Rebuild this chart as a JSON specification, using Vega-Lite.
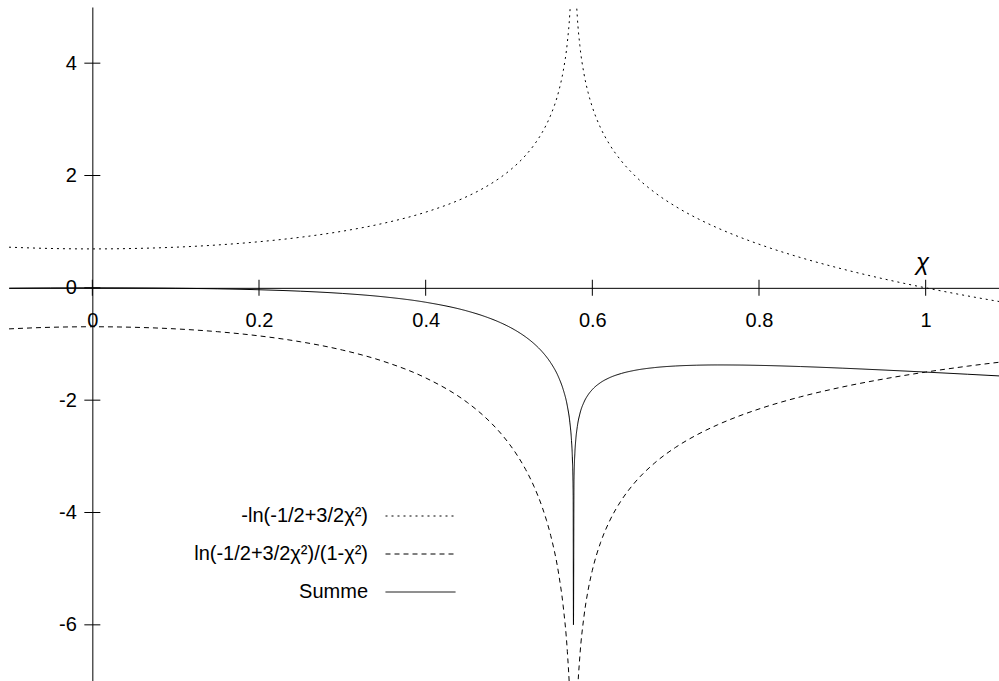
{
  "$schema": "https://vega.github.io/schema/vega-lite/v6.json",
  "width": 990,
  "height": 674,
  "autosize": "none",
  "padding": {"left": 9, "top": 7, "right": 0, "bottom": 0},
  "background": "white",
  "config": {
    "view": {"stroke": null},
    "font": "Liberation Sans",
    "axis": {"grid": false, "domainColor": "black", "domainWidth": 1, "labelColor": "black", "labelFontSize": 20, "labelFont": "Liberation Sans"}
  },
  "datasets": {
    "curves": [
      {"x": -0.1, "f1": 0.7236, "f2": -0.7309, "summe": -0.0073},
      {"x": -0.05, "f1": 0.7007, "f2": -0.7024, "summe": -0.0018},
      {"x": 0, "f1": 0.6931, "f2": -0.6931, "summe": 0},
      {"x": 0.05, "f1": 0.7007, "f2": -0.7024, "summe": -0.0018},
      {"x": 0.1, "f1": 0.7236, "f2": -0.7309, "summe": -0.0073},
      {"x": 0.15, "f1": 0.763, "f2": -0.7806, "summe": -0.0176},
      {"x": 0.2, "f1": 0.821, "f2": -0.8552, "summe": -0.0342},
      {"x": 0.25, "f1": 0.9008, "f2": -0.9608, "summe": -0.0601},
      {"x": 0.3, "f1": 1.0079, "f2": -1.1075, "summe": -0.0997},
      {"x": 0.35, "f1": 1.1512, "f2": -1.3119, "summe": -0.1607},
      {"x": 0.4, "f1": 1.3471, "f2": -1.6037, "summe": -0.2566},
      {"x": 0.45, "f1": 1.6284, "f2": -2.0418, "summe": -0.4135},
      {"x": 0.47, "f1": 1.7799, "f2": -2.2846, "summe": -0.5047},
      {"x": 0.49, "f1": 1.9672, "f2": -2.5887, "summe": -0.6216},
      {"x": 0.5, "f1": 2.0794, "f2": -2.7726, "summe": -0.6931},
      {"x": 0.51, "f1": 2.2086, "f2": -2.9851, "summe": -0.7764},
      {"x": 0.52, "f1": 2.3602, "f2": -3.2349, "summe": -0.8747},
      {"x": 0.53, "f1": 2.5427, "f2": -3.536, "summe": -0.9933},
      {"x": 0.54, "f1": 2.771, "f2": -3.9116, "summe": -1.1406},
      {"x": 0.545, "f1": 2.9102, "f2": -4.1399, "summe": -1.2297},
      {"x": 0.55, "f1": 3.0737, "f2": -4.4067, "summe": -1.333},
      {"x": 0.56, "f1": 3.52, "f2": -5.1282, "summe": -1.6082},
      {"x": 0.565, "f1": 3.8555, "f2": -5.6634, "summe": -1.8079},
      {"x": 0.57, "f1": 4.3701, "f2": -6.4733, "summe": -2.1032},
      {"x": 0.573, "f1": 4.892, "f2": -7.2833, "summe": -2.3913},
      {"x": 0.575, "f1": 5.506, "f2": -8.2255, "summe": -2.7196},
      {"x": 0.576, "f1": 6.0593, "f2": -9.0678, "summe": -3.0085},
      {"x": 0.577, "f1": 7.4078, "f2": -11.1049, "summe": -3.6971},
      {"x": 0.57735, "f1": 12, "f2": -18, "summe": -6},
      {"x": 0.578, "f1": 6.7891, "f2": -10.1951, "summe": -3.406},
      {"x": 0.579, "f1": 5.8564, "f2": -8.8098, "summe": -2.9534},
      {"x": 0.58, "f1": 5.3817, "f2": -8.1099, "summe": -2.7282},
      {"x": 0.582, "f1": 4.8176, "f2": -7.2853, "summe": -2.4677},
      {"x": 0.585, "f1": 4.3172, "f2": -6.5634, "summe": -2.2462},
      {"x": 0.59, "f1": 3.8099, "f2": -5.8443, "summe": -2.0344},
      {"x": 0.595, "f1": 3.4726, "f2": -5.3757, "summe": -1.9031},
      {"x": 0.6, "f1": 3.2189, "f2": -5.0295, "summe": -1.8106},
      {"x": 0.61, "f1": 2.8447, "f2": -4.5305, "summe": -1.6858},
      {"x": 0.62, "f1": 2.5692, "f2": -4.1734, "summe": -1.6043},
      {"x": 0.635, "f1": 2.2553, "f2": -3.7792, "summe": -1.5239},
      {"x": 0.65, "f1": 2.0118, "f2": -3.4836, "summe": -1.4718},
      {"x": 0.675, "f1": 1.6959, "f2": -3.1153, "summe": -1.4194},
      {"x": 0.7, "f1": 1.4482, "f2": -2.8395, "summe": -1.3914},
      {"x": 0.725, "f1": 1.2433, "f2": -2.6209, "summe": -1.3776},
      {"x": 0.75, "f1": 1.0678, "f2": -2.4408, "summe": -1.3729},
      {"x": 0.775, "f1": 0.914, "f2": -2.2885, "summe": -1.3745},
      {"x": 0.8, "f1": 0.7765, "f2": -2.157, "summe": -1.3805},
      {"x": 0.85, "f1": 0.5383, "f2": -1.9398, "summe": -1.4015},
      {"x": 0.9, "f1": 0.3355, "f2": -1.7656, "summe": -1.4302},
      {"x": 0.95, "f1": 0.1581, "f2": -1.6217, "summe": -1.4636},
      {"x": 1.0, "f1": 0, "f2": -1.5, "summe": -1.5},
      {"x": 1.05, "f1": -0.143, "f2": -1.3953, "summe": -1.5383},
      {"x": 1.1, "f1": -0.2738, "f2": -1.304, "summe": -1.5778}
    ]
  },
  "layer": [
    {
      "data": {"name": "curves"},
      "mark": {"type": "line", "color": "black", "strokeWidth": 1, "clip": true, "interpolate": "monotone"},
      "encoding": {
        "x": {
          "field": "x", "type": "quantitative",
          "scale": {"domain": [-0.1, 1.088], "nice": false, "zero": false},
          "axis": {
            "orient": "bottom", "offset": -393.17,
            "values": [0, 0.2, 0.4, 0.6, 0.8, 1],
            "labelExpr": "datum.value + ''",
            "ticks": false, "tickSize": 0, "labelPadding": 23,
            "labelFlush": false, "labelOverlap": false,
            "title": "χ", "titleX": 913, "titleY": -18,
            "titleAlign": "center", "titleBaseline": "alphabetic", "titleAngle": 0,
            "titleFontSize": 24, "titleFontStyle": "italic", "titleFontWeight": "normal", "titleColor": "black"
          }
        },
        "y": {
          "field": "f1", "type": "quantitative",
          "scale": {"domain": [-7, 5], "nice": false, "zero": false},
          "axis": {
            "orient": "left", "offset": -83.33,
            "values": [-6, -4, -2, 0, 2, 4],
            "labelExpr": "datum.value + ''",
            "ticks": false, "tickSize": 0, "labelPadding": 16,
            "labelFlush": false, "labelOverlap": false,
            "title": null
          }
        },
        "strokeDash": {
          "datum": "-ln(-1/2+3/2χ²)", "type": "nominal",
          "scale": {
            "domain": ["-ln(-1/2+3/2χ²)", "ln(-1/2+3/2χ²)/(1-χ²)", "Summe"],
            "range": [[2, 4], [5, 4], [1, 0]]
          },
          "legend": {
            "orient": "none", "legendX": 376, "legendY": 499, "title": null,
            "symbolType": "stroke", "symbolSize": 4900, "symbolStrokeWidth": 1, "symbolStrokeColor": "black",
            "rowPadding": 18, "padding": 0,
            "labelAlign": "right", "labelOffset": -88, "labelFontSize": 20,
            "labelFont": "Liberation Sans", "labelColor": "black", "labelLimit": 0,
            "encode": {
              "symbols": {"update": {"y": {"value": 10}}},
              "labels": {"update": {"y": {"value": 10}}}
            }
          }
        }
      }
    },
    {
      "data": {"name": "curves"},
      "mark": {"type": "line", "color": "black", "strokeWidth": 1, "clip": true, "interpolate": "monotone"},
      "encoding": {
        "x": {"field": "x", "type": "quantitative"},
        "y": {"field": "f2", "type": "quantitative"},
        "strokeDash": {"datum": "ln(-1/2+3/2χ²)/(1-χ²)", "type": "nominal"}
      }
    },
    {
      "data": {"name": "curves"},
      "mark": {"type": "line", "color": "black", "strokeWidth": 1, "clip": true, "interpolate": "monotone"},
      "encoding": {
        "x": {"field": "x", "type": "quantitative"},
        "y": {"field": "summe", "type": "quantitative"},
        "strokeDash": {"datum": "Summe", "type": "nominal"}
      }
    },
    {
      "data": {"values": [{"t": 0}, {"t": 0.2}, {"t": 0.4}, {"t": 0.6}, {"t": 0.8}, {"t": 1}]},
      "mark": {"type": "tick", "orient": "vertical", "size": 16, "thickness": 1, "color": "black", "opacity": 1},
      "encoding": {
        "x": {"field": "t", "type": "quantitative"},
        "y": {"datum": 0, "type": "quantitative"}
      }
    },
    {
      "data": {"values": [{"t": -6}, {"t": -4}, {"t": -2}, {"t": 0}, {"t": 2}, {"t": 4}]},
      "mark": {"type": "tick", "orient": "horizontal", "size": 16, "thickness": 1, "color": "black", "opacity": 1},
      "encoding": {
        "x": {"datum": 0, "type": "quantitative"},
        "y": {"field": "t", "type": "quantitative"}
      }
    }
  ]
}
